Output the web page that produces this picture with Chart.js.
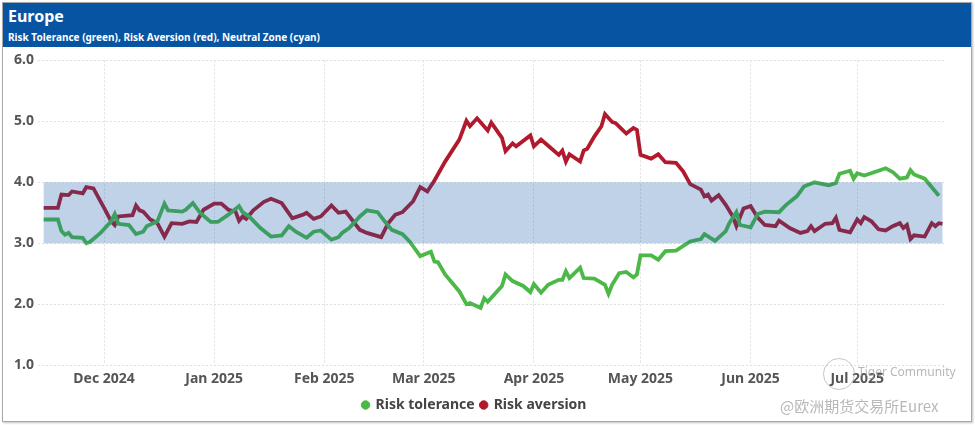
<!DOCTYPE html>
<html>
<head>
<meta charset="utf-8">
<script src="https://cdn.jsdelivr.net/npm/chart.js@4/dist/chart.umd.min.js"></script>
<style>
  body { margin: 0; background: #fff; font-family: "Noto Sans", "Open Sans", sans-serif; }
  #frame { position: absolute; left: 2px; top: 2px; width: 968px; height: 418px; border: 1px solid #a8a8a8; box-shadow: 1px 1px 2px rgba(0,0,0,0.25); background: #fff; }
  #head { position: absolute; left: 0; top: 0; width: 968px; height: 44px; background: #0654a2; color: #fff; }
  #title { position: absolute; left: 5px; top: 2px; font-size: 16px; font-weight: bold; }
  #subtitle { position: absolute; left: 5px; top: 27px; font-size: 10px; font-weight: bold; }
  #wrap { position: absolute; left: 0; top: 45px; width: 968px; height: 374px; }
  .mark { position: absolute; color: rgba(160,160,160,0.75); white-space: nowrap; }
  #logo { position: absolute; left: 820px; top: 355px; width: 30px; height: 30px; border: 1px solid rgba(160,160,160,0.6); border-radius: 50%; }
</style>
</head>
<body>
<div id="frame">
  <div id="head">
    <div id="title">Europe</div>
    <div id="subtitle">Risk Tolerance (green), Risk Aversion (red), Neutral Zone (cyan)</div>
  </div>
  <div id="wrap"><canvas id="chart"></canvas></div>
  <div id="logo"></div>
  <div class="mark" style="left:855px;top:360px;font-size:12px;">Tiger Community</div>
  <div class="mark" style="left:777px;top:392px;font-size:15px;font-family:'Noto Sans CJK SC',sans-serif;">@欧洲期货交易所Eurex</div>
</div>
<script>
// x values are days counted from 1 Dec 2024
const monthDays = [0, 31, 62, 90, 121, 151, 182, 212];
const monthLabels = ['Dec 2024', 'Jan 2025', 'Feb 2025', 'Mar 2025', 'Apr 2025', 'May 2025', 'Jun 2025', 'Jul 2025'];
const yTicks = [1, 2, 3, 4, 5, 6];
const neutralZone = [3.0, 4.0];

const toleranceDays = [
  -17, -13, -12, -11, -10, -9, -6, -5, -4, -1,
  2, 3, 4, 7, 9, 11, 12, 15, 17, 18,
  22, 23, 25, 27, 30, 32, 35, 38, 39, 41,
  44, 47, 50, 52, 54, 57, 59, 61, 64, 66,
  67, 69, 72, 74, 77, 79, 81, 84, 86, 89,
  92, 93, 94, 96, 100, 102, 103, 106, 107, 108,
  112, 113, 115, 118, 120, 121, 123, 125, 128, 129,
  130, 131, 134, 135, 138, 141, 142, 143, 145, 147,
  149, 150, 151, 154, 156, 158, 161, 165, 168, 169,
  172, 175, 176, 178, 179, 182, 184, 186, 190, 192,
  195, 197, 200, 204, 206, 207, 210, 211, 212, 214,
  218, 220, 222, 224, 226, 227, 228, 231, 233, 235
];
const toleranceValues = [
  3.39, 3.39, 3.20, 3.14, 3.17, 3.10, 3.09, 3.00, 3.02, 3.17,
  3.36, 3.48, 3.32, 3.30, 3.15, 3.19, 3.28, 3.36, 3.65, 3.54,
  3.52, 3.55, 3.66, 3.50, 3.35, 3.35, 3.47, 3.61, 3.51, 3.43,
  3.25, 3.11, 3.13, 3.28, 3.19, 3.09, 3.19, 3.21, 3.06, 3.10,
  3.17, 3.25, 3.44, 3.54, 3.51, 3.36, 3.22, 3.15, 3.03, 2.79,
  2.86, 2.70, 2.69, 2.49, 2.21, 2.00, 2.02, 1.94, 2.10, 2.04,
  2.30, 2.49, 2.38, 2.30, 2.20, 2.33, 2.19, 2.32, 2.40, 2.40,
  2.54, 2.43, 2.60, 2.43, 2.42, 2.32, 2.17, 2.32, 2.51, 2.53,
  2.44, 2.49, 2.80, 2.80, 2.73, 2.87, 2.88, 3.03, 3.07, 3.15,
  3.04, 3.20, 3.33, 3.51, 3.30, 3.26, 3.48, 3.52, 3.51, 3.63,
  3.77, 3.93, 4.00, 3.95, 3.99, 4.14, 4.19, 4.06, 4.15, 4.11,
  4.19, 4.23, 4.17, 4.06, 4.08, 4.20, 4.13, 4.06, 3.92, 3.78
];

const aversionDays = [
  -17, -13, -12, -10, -9, -6, -5, -3, 0, 2,
  3, 4, 8, 9, 10, 11, 13, 15, 17, 19,
  22, 24, 26, 28, 31, 33, 35, 37, 38, 39,
  40, 42, 45, 47, 50, 53, 56, 57, 59, 61,
  64, 66, 68, 72, 74, 78, 80, 82, 84, 87,
  89, 91, 93, 96, 100, 102, 103, 105, 108, 109,
  112, 113, 115, 116, 120, 121, 123, 126, 128, 129,
  130, 131, 134, 135, 136, 138, 140, 141, 143, 144,
  147, 149, 150, 151, 154, 156, 158, 161, 163, 165,
  168, 169, 170, 171, 173, 175, 177, 178, 180, 182,
  184, 186, 189, 190, 193, 196, 198, 199, 200, 203,
  205, 206, 207, 210, 212, 213, 214, 216, 218, 220,
  222, 224, 225, 226, 227, 228, 231, 233, 234, 235,
  236
];
const aversionValues = [
  3.58, 3.58, 3.80, 3.79, 3.85, 3.82, 3.92, 3.90, 3.58, 3.36,
  3.30, 3.44, 3.46, 3.62, 3.54, 3.52, 3.39, 3.33, 3.11, 3.33,
  3.32, 3.36, 3.35, 3.55, 3.65, 3.65, 3.55, 3.52, 3.37, 3.44,
  3.40, 3.54, 3.68, 3.73, 3.66, 3.41, 3.47, 3.50, 3.40, 3.44,
  3.62, 3.50, 3.52, 3.22, 3.17, 3.10, 3.33, 3.47, 3.51, 3.69,
  3.92, 3.85, 4.03, 4.34, 4.70, 5.01, 4.92, 5.05, 4.85, 4.98,
  4.73, 4.51, 4.64, 4.59, 4.77, 4.59, 4.70, 4.55, 4.45, 4.52,
  4.34, 4.46, 4.34, 4.52, 4.55, 4.75, 4.92, 5.12, 4.99, 4.97,
  4.80, 4.89, 4.86, 4.45, 4.39, 4.46, 4.33, 4.32, 4.18, 3.97,
  3.88, 3.77, 3.80, 3.70, 3.79, 3.63, 3.44, 3.28, 3.57, 3.61,
  3.42, 3.30, 3.28, 3.37, 3.25, 3.17, 3.20, 3.28, 3.20, 3.32,
  3.33, 3.42, 3.22, 3.18, 3.39, 3.33, 3.43, 3.36, 3.23, 3.21,
  3.28, 3.33, 3.25, 3.30, 3.07, 3.13, 3.11, 3.33, 3.28, 3.33,
  3.32
];

const greenColor = '#4cb848';
const redColor = '#b01a2c';
const tickFont = { family: "'Noto Sans', sans-serif", size: 14, weight: 'bold' };

// neutral zone painted over the lines, semi transparent like the original
const zonePlugin = {
  id: 'zone',
  afterDatasetsDraw(chart) {
    const { ctx, scales: { x, y } } = chart;
    const x0 = x.getPixelForValue(Math.min(toleranceDays[0], aversionDays[0]));
    const x1 = x.getPixelForValue(Math.max(toleranceDays[toleranceDays.length - 1], aversionDays[aversionDays.length - 1]));
    const yTop = y.getPixelForValue(neutralZone[1]);
    const yBot = y.getPixelForValue(neutralZone[0]);
    ctx.save();
    ctx.fillStyle = 'rgba(20, 90, 165, 0.27)';
    ctx.fillRect(x0, yTop, x1 - x0, yBot - yTop);
    ctx.restore();
  }
};

const chartCanvas = document.getElementById('chart');

new Chart(chartCanvas, {
  type: 'line',
  data: {
    datasets: [
      {
        label: 'Risk tolerance',
        data: toleranceDays.map((d, i) => ({ x: d, y: toleranceValues[i] })),
        borderColor: greenColor,
        backgroundColor: greenColor,
        borderWidth: 3.8,
        pointRadius: 0,
        tension: 0
      },
      {
        label: 'Risk aversion',
        data: aversionDays.map((d, i) => ({ x: d, y: aversionValues[i] })),
        borderColor: redColor,
        backgroundColor: redColor,
        borderWidth: 3.8,
        pointRadius: 0,
        tension: 0
      }
    ]
  },
  options: {
    responsive: true,
    maintainAspectRatio: false,
    animation: false,
    layout: { padding: { top: 11, right: 25, left: 0, bottom: 0 } },
    plugins: {
      tooltip: { enabled: false },
      legend: {
        position: 'bottom',
        labels: {
          usePointStyle: true,
          pointStyle: 'circle',
          boxWidth: 6,
          boxHeight: 6,
          padding: 6,
          color: '#444',
          font: { family: "'Noto Sans', sans-serif", size: 14, weight: 'bold' },
          generateLabels: (chart) => Chart.defaults.plugins.legend.labels.generateLabels(chart).map(item => ({ ...item, lineWidth: 1 }))
        }
      }
    },
    scales: {
      x: {
        type: 'linear',
        min: -18.6,
        max: 237,
        afterBuildTicks: (scale) => { scale.ticks = monthDays.map(v => ({ value: v })); },
        ticks: {
          autoSkip: false,
          maxRotation: 0,
          padding: 5,
          color: '#555',
          font: tickFont,
          callback: (value) => monthLabels[monthDays.indexOf(value)]
        },
        grid: { color: '#e0e0e0', drawTicks: false },
        border: { display: false, dash: [2, 2] }
      },
      y: {
        min: 1,
        max: 6,
        afterBuildTicks: (scale) => { scale.ticks = yTicks.map(v => ({ value: v })); },
        afterFit: (scale) => { scale.width = 35; },
        ticks: {
          padding: 4,
          color: '#555',
          font: tickFont,
          callback: (value) => value.toFixed(1)
        },
        grid: { color: '#e0e0e0', drawTicks: false },
        border: { display: false, dash: [2, 2] }
      }
    }
  },
  plugins: [zonePlugin]
});
</script>
</body>
</html>
